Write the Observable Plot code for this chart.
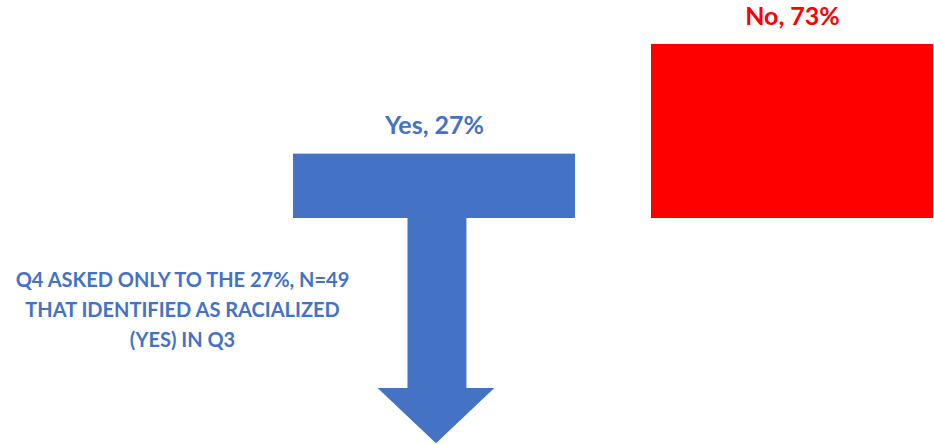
<!DOCTYPE html>
<html><head><meta charset="utf-8">
<script src="https://cdn.jsdelivr.net/npm/d3@7"></script>
<script src="https://cdn.jsdelivr.net/npm/@observablehq/plot@0.6"></script>
<style>
body{margin:0;background:#fff;}
#chart svg{display:block;font-family:Lato,"Open Sans",sans-serif;}
</style>
</head><body><div id="chart"></div>
<script>
const categories = ["Yes", "No"];
const values = [27, 73];
const barLabels = ["Yes, 27%", "No, 73%"];
const barColors = ["#4472C4", "#FF0000"];
const noteLines = ["Q4 ASKED ONLY TO THE 27%, N=49", "THAT IDENTIFIED AS RACIALIZED", "(YES) IN Q3"];
const noteValue = -37.2;        // note centre, in % units below the baseline
const arrowNeck = -71.3;        // where the arrow head starts (% units)
const arrowTip = -94.5;         // arrow tip (% units)

const bars = categories.map((c, i) => ({category: c, value: values[i], label: barLabels[i], color: barColors[i]}));

function arrow(index, scales) {
  const x = scales.x, y = scales.y;
  const x0 = x("Yes"), bw = x.bandwidth();
  const s0 = x0 + bw * 0.406, s1 = x0 + bw * 0.615;
  const h0 = x0 + bw * 0.30, h1 = x0 + bw * 0.714;
  const yb = y(0), yn = y(arrowNeck), yt = y(arrowTip), xm = (h0 + h1) / 2;
  const path = d3.create("svg:path")
    .attr("fill", barColors[0])
    .attr("d", `M${s0},${yb}L${s1},${yb}L${s1},${yn}L${h1},${yn}L${xm},${yt}L${h0},${yn}L${s0},${yn}Z`);
  return path.node();
}

const chart = Plot.plot({
  width: 934,
  height: 445,
  marginLeft: 293,
  marginRight: 0,
  marginTop: 44,
  marginBottom: 227,
  x: {domain: categories, paddingInner: 0.212, paddingOuter: 0, axis: null},
  y: {domain: [0, 73], axis: null},
  marks: [
    Plot.barY(bars, {x: "category", y: "value", fill: "color"}),
    arrow,
    Plot.text(bars, {x: "category", y: "value", text: "label", fill: "color", dy: -28,
      lineAnchor: "middle", fontSize: 25, fontWeight: "bold"}),
    Plot.text([noteLines.join("\n")], {y: [noteValue], text: d => d, frameAnchor: "left", dx: -111,
      textAnchor: "middle", lineAnchor: "middle", lineHeight: 1.5, fontSize: 20, fontWeight: "bold", fill: barColors[0]})
  ]
});
document.getElementById("chart").appendChild(chart);
</script>
</body></html>
